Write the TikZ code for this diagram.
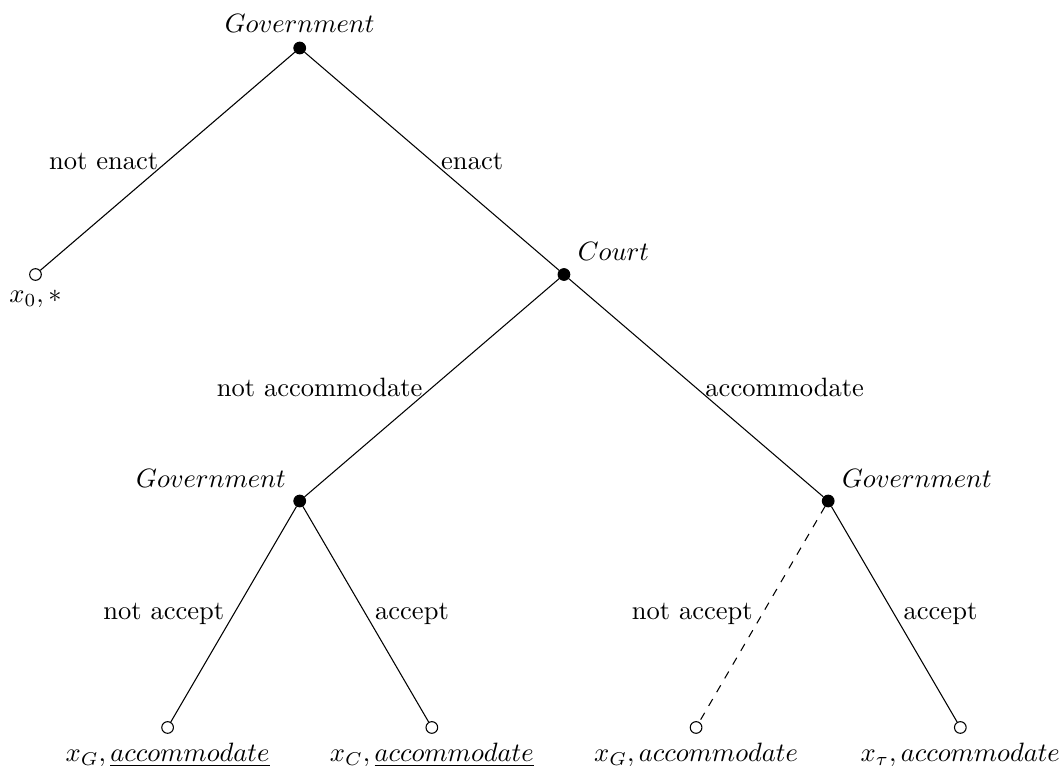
\documentclass[tikz,border=0pt]{standalone}
\begin{document}
\begin{tikzpicture}[
    decision/.style={circle, fill=black, draw=black, inner sep=0pt, minimum size=4.4pt},
    terminal/.style={circle, fill=white, draw=black, inner sep=0pt, minimum size=4.4pt}]
    \useasboundingbox (-3.97,0.636) rectangle (10.11,-9.51);
    \node[decision, label=above:{$Government$}] (g0) at (0,0) {};
    \node[terminal, label=below:{$x_0, *$}] (t0) at (-3.5,-3) {};
    \node[decision, label=above right:{$Court$}] (c1) at (3.5,-3) {};
    \node[decision, label=above left:{$Government$}] (g1) at (0,-6) {};
    \node[decision, label=above right:{$Government$}] (g2) at (7,-6) {};
    \node[terminal, label=below:{$x_G, \underline{accommodate}$}] (t1) at (-1.75,-9) {};
    \node[terminal, label=below:{$x_C, \underline{accommodate}$}] (t2) at (1.75,-9) {};
    \node[terminal, label=below:{$x_G, accommodate$}] (t3) at (5.25,-9) {};
    \node[terminal, label=below:{$x_\tau, accommodate$}] (t4) at (8.75,-9) {};
    \draw (g0) -- node[left] {not enact} (t0);
    \draw (g0) -- node[right] {enact} (c1);
    \draw (c1) -- node[left] {not accommodate} (g1);
    \draw (c1) -- node[right] {accommodate} (g2);
    \draw (g1) -- node[left] {not accept} (t1);
    \draw (g1) -- node[right] {accept} (t2);
    \draw[dashed] (g2) -- node[left] {not accept} (t3);
    \draw (g2) -- node[right] {accept} (t4);
\end{tikzpicture}
\end{document}
